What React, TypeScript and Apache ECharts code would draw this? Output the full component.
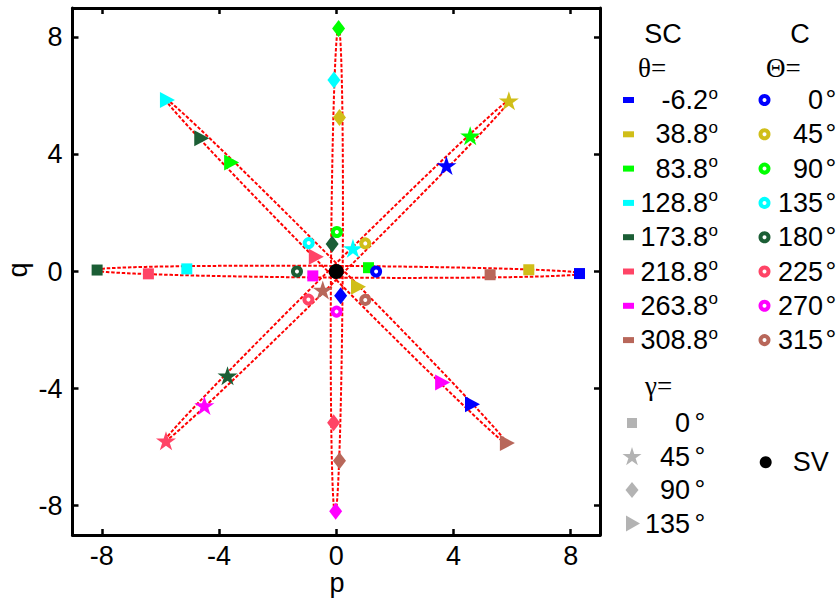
import React, { useEffect, useRef } from 'react';
import * as echarts from 'echarts';

const FONT = '"Liberation Sans", Arial, Helvetica, sans-serif';
const SERIF = '"Liberation Serif", "Times New Roman", serif';

// Categories
const SC_THETA = ['-6.2', '38.8', '83.8', '128.8', '173.8', '218.8', '263.8', '308.8'];
const C_THETA = ['0', '45', '90', '135', '180', '225', '270', '315'];
const GAMMA = ['0', '45', '90', '135'];
const COLORS = ['#0000ff', '#d0be18', '#00ff00', '#00ffff', '#1b5e35', '#ff4466', '#ff00ff', '#b8675a'];
const P_TICKS = [-8, -4, 0, 4, 8];
const Q_TICKS = [-8, -4, 0, 4, 8];

// gamma = 0 (squares), indexed by SC theta
const SQ_P = [8.3, 6.57, 1.1, -5.1, -8.16, -6.41, -0.8, 5.25];
const SQ_Q = [-0.07, 0.06, 0.13, 0.09, 0.05, -0.08, -0.15, -0.11];
// gamma = 45 (stars)
const STAR_P = [3.76, 5.89, 4.57, 0.57, -3.71, -5.81, -4.5, -0.46];
const STAR_Q = [3.62, 5.83, 4.64, 0.79, -3.56, -5.78, -4.58, -0.63];
// gamma = 90 (diamonds)
const DIA_P = [0.15, 0.11, 0.08, -0.08, -0.14, -0.09, -0.02, 0.11];
const DIA_Q = [-0.83, 5.26, 8.3, 6.54, 0.94, -5.17, -8.19, -6.46];
// gamma = 135 (triangles)
const TRI_P = [4.65, 0.76, -3.57, -5.76, -4.59, -0.68, 3.63, 5.84];
const TRI_Q = [-4.53, -0.52, 3.72, 5.86, 4.55, 0.5, -3.79, -5.86];
// C rings, indexed by C Theta
const C_P = [1.36, 0.99, 0.02, -0.94, -1.34, -0.95, 0.01, 0.99];
const C_Q = [0, 0.96, 1.35, 0.97, 0, -0.96, -1.37, -0.97];
// SV
const SV_P = [0];
const SV_Q = [0];
// Ellipses (one per gamma)
const ELL_CX = [0.07, 0.03, 0.02, 0.01];
const ELL_CY = [-0.01, 0.03, 0.05, -0.01];
const ELL_A = [8.3, 8.3, 8.3, 8.3];
const ELL_B = [0.2, 0.2, 0.2, 0.2];
const ELL_ROT = [-0.4, 44.7, 89.6, 134.7];

const STAR_PATH =
  'path://M50,0 L61.17,34.63 L97.55,34.55 L68.07,55.87 L79.39,90.45 L50,69 L20.61,90.45 L31.93,55.87 L2.45,34.55 L38.83,34.63 Z';
const STAR_PTS = [
  [50, 0], [61.17, 34.63], [97.55, 34.55], [68.07, 55.87], [79.39, 90.45],
  [50, 69], [20.61, 90.45], [31.93, 55.87], [2.45, 34.55], [38.83, 34.63],
];
const TRI_PATH = 'path://M0,0 L10,5 L0,10 Z';

export default function App() {
  const ref = useRef<HTMLDivElement>(null);

  useEffect(() => {
    const chart = echarts.init(ref.current!, null, { renderer: 'svg' });

    const pts = (P: number[], Q: number[], colors: string[]) =>
      P.map((p, i) => ({ value: [p, Q[i]], itemStyle: { color: colors[i], opacity: 1 } }));
    const rings = C_P.map((p, i) => ({
      value: [p, C_Q[i]],
      itemStyle: { color: '#ffffff', borderColor: COLORS[i], borderWidth: 4, opacity: 1 },
    }));
    const ellData = ELL_CX.map((cx, i) => [cx, ELL_CY[i], ELL_A[i], ELL_B[i], ELL_ROT[i]]);

    const tickAxis = (pos: string, ticks: number[], showLabel: boolean, margin: number) => ({
      type: 'value',
      min: -9,
      max: 9,
      position: pos,
      axisLine: { show: true, onZero: false, lineStyle: { color: '#000', width: 3 } },
      axisTick: { show: true, inside: true, length: 6, lineStyle: { color: '#000', width: 2.5 }, customValues: ticks },
      axisLabel: {
        show: showLabel,
        customValues: ticks,
        fontSize: 27,
        fontFamily: FONT,
        color: '#000',
        margin,
      },
      splitLine: { show: false },
    });

    const graphics: any[] = [];
    const txt = (text: string, x: number, y: number, align: string, opts: any = {}) => ({
      type: 'text',
      x,
      y,
      z: 100,
      ...opts,
      style: {
        text,
        fill: '#000',
        font: `${opts.size || 27}px ${opts.family || FONT}`,
        align,
        verticalAlign: 'middle',
      },
    });

    // Axis names
    graphics.push(txt('p', 337, 583, 'center'));
    graphics.push(txt('q', 18, 270, 'center', { rotation: Math.PI / 2 }));

    // SC legend
    graphics.push(txt('SC', 663, 34, 'center'));
    graphics.push(txt('θ=', 638, 68, 'left', { family: SERIF }));
    const ROW0 = 100;
    const STEP = 34.3;
    SC_THETA.forEach((t, i) => {
      const y = ROW0 + i * STEP;
      graphics.push({ type: 'rect', z: 100, shape: { x: 623, y: y - 3, width: 11, height: 6 }, style: { fill: COLORS[i] } });
      graphics.push(txt(t, 708, y, 'right'));
      graphics.push(txt('o', 708.5, y - 7, 'left', { size: 17 }));
    });
    // C legend
    graphics.push(txt('C', 800, 34, 'center'));
    graphics.push(txt('Θ=', 766, 68, 'left', { family: SERIF }));
    C_THETA.forEach((t, i) => {
      const y = ROW0 + i * STEP;
      graphics.push({
        type: 'circle',
        z: 100,
        shape: { cx: 764.5, cy: y, r: 4 },
        style: { fill: '#ffffff', stroke: COLORS[i], lineWidth: 4 },
      });
      graphics.push(txt(t, 823, y, 'right'));
      graphics.push(txt('°', 825.5, y, 'left'));
    });
    // gamma legend
    const GRAY = '#b3b3b3';
    graphics.push(txt('γ=', 645, 386, 'left', { family: SERIF }));
    const G0 = 423;
    const GSTEP = 33.5;
    const gx = 632;
    GAMMA.forEach((g, i) => {
      const y = G0 + i * GSTEP;
      if (i === 0) {
        graphics.push({ type: 'rect', z: 100, shape: { x: gx - 5, y: y - 5, width: 10, height: 10 }, style: { fill: GRAY } });
      } else if (i === 1) {
        graphics.push({
          type: 'polygon',
          z: 100,
          shape: { points: STAR_PTS.map(([a, b]) => [gx + (a - 50) * 0.2, y + (b - 47) * 0.2]) },
          style: { fill: GRAY },
        });
      } else if (i === 2) {
        graphics.push({
          type: 'polygon',
          z: 100,
          shape: { points: [[gx, y - 8], [gx + 6.5, y], [gx, y + 8], [gx - 6.5, y]] },
          style: { fill: GRAY },
        });
      } else {
        graphics.push({
          type: 'polygon',
          z: 100,
          shape: { points: [[gx - 6, y - 8], [gx + 8, y], [gx - 6, y + 8]] },
          style: { fill: GRAY },
        });
      }
      graphics.push(txt(g, 690, y, 'right'));
      graphics.push(txt('°', 694.5, y, 'left'));
    });
    // SV legend
    graphics.push({ type: 'circle', z: 100, shape: { cx: 765.7, cy: 462.3, r: 6 }, style: { fill: '#000' } });
    graphics.push(txt('SV', 792.7, 462.3, 'left'));

    const option: any = {
      animation: false,
      backgroundColor: '#ffffff',
      grid: { left: 72.5, top: 8, width: 527.5, height: 527, outerBoundsMode: 'none', containLabel: false },
      xAxis: [tickAxis('bottom', P_TICKS, true, 7), tickAxis('top', P_TICKS, false, 8)],
      yAxis: [tickAxis('left', Q_TICKS, true, 10), tickAxis('right', Q_TICKS, false, 8)],
      graphic: graphics,
      series: [
        {
          type: 'custom',
          z: 1,
          data: ellData,
          renderItem: (params: any, api: any) => {
            const cx = api.value(0);
            const cy = api.value(1);
            const a = api.value(2);
            const b = api.value(3);
            const r = (api.value(4) * Math.PI) / 180;
            const points: number[][] = [];
            const N = 240;
            for (let k = 0; k <= N; k++) {
              const t = (k / N) * Math.PI * 2;
              const u = a * Math.cos(t);
              const v = b * Math.sin(t);
              points.push(api.coord([cx + u * Math.cos(r) - v * Math.sin(r), cy + u * Math.sin(r) + v * Math.cos(r)]));
            }
            return {
              type: 'polyline',
              shape: { points },
              style: { stroke: '#ff0000', fill: 'none', lineWidth: 2, lineDash: [3.5, 1.8] },
            };
          },
        },
        { type: 'scatter', z: 3, symbol: 'rect', symbolSize: 11, data: pts(SQ_P, SQ_Q, COLORS) },
        { type: 'scatter', z: 3, symbol: STAR_PATH, symbolSize: [20, 19], data: pts(STAR_P, STAR_Q, COLORS) },
        { type: 'scatter', z: 3, symbol: 'diamond', symbolSize: [13, 17], data: pts(DIA_P, DIA_Q, COLORS) },
        { type: 'scatter', z: 3, symbol: TRI_PATH, symbolSize: [15, 16], data: pts(TRI_P, TRI_Q, COLORS) },
        { type: 'scatter', z: 4, symbol: 'circle', symbolSize: 8, data: rings },
        {
          type: 'scatter',
          z: 5,
          symbol: 'circle',
          symbolSize: 15,
          itemStyle: { color: '#000', opacity: 1 },
          data: SV_P.map((p, i) => [p, SV_Q[i]]),
        },
      ],
    };
    chart.setOption(option);
    return () => chart.dispose();
  }, []);

  return (
    <div
      ref={ref}
      style={{ position: 'fixed', left: 0, top: 0, width: 837, height: 599, background: '#ffffff' }}
    />
  );
}
